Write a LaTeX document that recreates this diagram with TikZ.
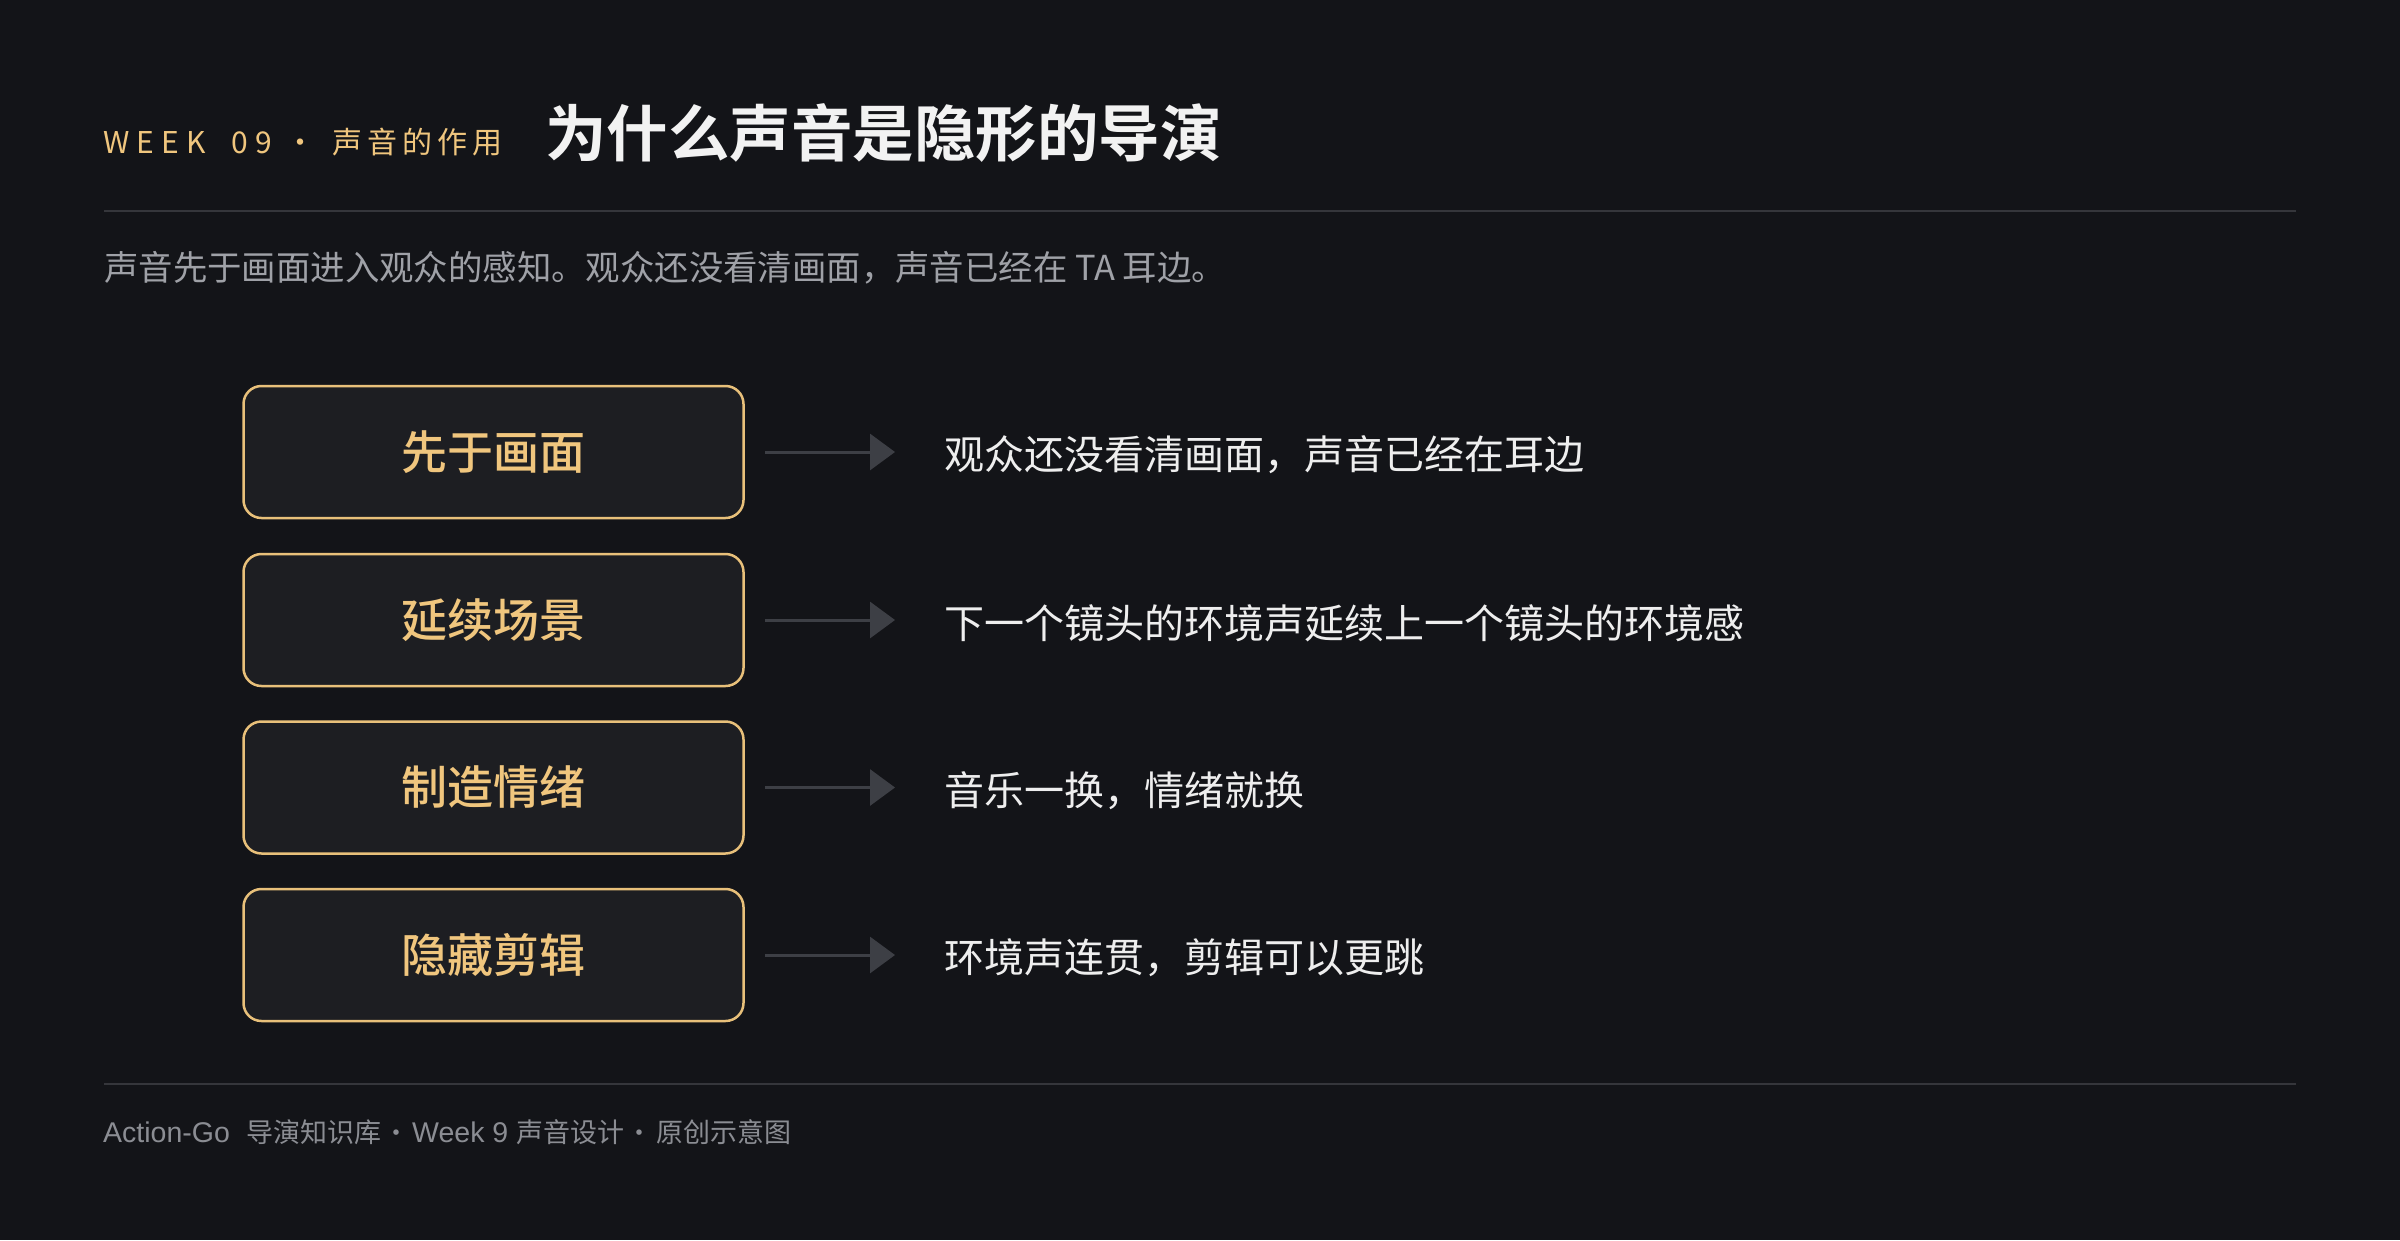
\documentclass[tikz,border=0pt]{standalone}
\usepackage{fontspec}
\setmainfont{Noto Sans CJK SC}
\newfontfamily\cjkbold{Noto Sans CJK SC Bold}
\newfontfamily\cjkmed{Noto Sans CJK SC Medium}
\newfontfamily\latfont{Liberation Sans}
\usetikzlibrary{arrows.meta}
\definecolor{bg}{HTML}{131418}
\definecolor{boxfill}{HTML}{1D1E22}
\definecolor{gold}{HTML}{F0C67E}
\definecolor{goldline}{HTML}{E8C07A}
\definecolor{titlewhite}{HTML}{F2F2F2}
\definecolor{subgray}{HTML}{9FA1A7}
\definecolor{textwhite}{HTML}{EEEEEE}
\definecolor{footgray}{HTML}{8B8D93}
\definecolor{rule}{HTML}{35363B}
\definecolor{arrowgray}{HTML}{3D3F45}
\tikzset{
  stepbox/.style={draw=goldline, line width=2.5pt, fill=boxfill, rounded corners=18pt,
    minimum width=500pt, minimum height=132pt, inner sep=0pt, text=gold,
    font=\cjkmed\fontsize{46}{46}\selectfont},
  desc/.style={anchor=west, inner sep=0pt, text=textwhite, font=\fontsize{40}{40}\selectfont},
  conn/.style={draw=arrowgray, line width=3pt, -{Triangle[length=25pt,width=36pt]},
    shorten <=20pt, shorten >=49pt},
  hrule/.style={draw=rule, line width=2pt},
  kick/.style={anchor=base west, inner sep=0pt, text=gold, font=\fontsize{30}{30}\selectfont},
  footlat/.style={anchor=base west, inner sep=0pt, text=footgray, font=\latfont\fontsize{28.5}{28.5}\selectfont},
  footcjk/.style={anchor=base west, inner sep=0pt, text=footgray, font=\fontsize{27}{27}\selectfont},
  footdot/.style={anchor=base, inner sep=0pt, text=footgray, font=\fontsize{26}{26}\selectfont}
}
\begin{document}
\begin{tikzpicture}[x=1pt,y=-1pt]
\fill[bg] (0,0) rectangle (2400,1240);
\useasboundingbox (0,0) rectangle (2400,1240);
% header
\node[kick] (kweek) at (103,153) {\addfontfeatures{LetterSpace=24}WEEK};
\node[kick] (knum) at (231,153) {\addfontfeatures{LetterSpace=24}09};
\node[kick, anchor=base] (kdot) at (300,153) {·};
\node[kick] (kcjk) at (332,153) {\addfontfeatures{LetterSpace=17}声音的作用};
\node[anchor=west, inner sep=0pt, text=titlewhite, font=\cjkbold\fontsize{61.5}{61.5}\selectfont] (title) at (545,133) {为什么声音是隐形的导演};
\coordinate (r1a) at (104,211);
\coordinate (r1b) at (2296,211);
\draw[hrule] (r1a) -- (r1b);
\node[anchor=west, inner sep=0pt, text=subgray, font=\fontsize{34.4}{34.4}\selectfont] (sub) at (104,268) {声音先于画面进入观众的感知。观众还没看清画面，声音已经在 TA 耳边。};
% rows
\node[stepbox] (b1) at (493.5,452) {先于画面};
\node[stepbox] (b2) at (493.5,620) {延续场景};
\node[stepbox] (b3) at (493.5,787.5) {制造情绪};
\node[stepbox] (b4) at (493.5,955) {隐藏剪辑};
\node[desc] (t1) at (944,455) {观众还没看清画面，声音已经在耳边};
\node[desc] (t2) at (944,623) {下一个镜头的环境声延续上一个镜头的环境感};
\node[desc] (t3) at (944,790.5) {音乐一换，情绪就换};
\node[desc] (t4) at (944,958) {环境声连贯，剪辑可以更跳};
\draw[conn] (b1.east) -- (b1.east -| t1.west);
\draw[conn] (b2.east) -- (b2.east -| t2.west);
\draw[conn] (b3.east) -- (b3.east -| t3.west);
\draw[conn] (b4.east) -- (b4.east -| t4.west);
% footer
\coordinate (r2a) at (104,1084);
\coordinate (r2b) at (2296,1084);
\draw[hrule] (r2a) -- (r2b);
\node[footlat] (f1) at (103,1142) {Action-Go};
\node[footcjk] (f2) at (246,1142) {导演知识库};
\node[footdot] (f3) at (396,1142) {·};
\node[footlat] (f4) at (412,1142) {Week 9};
\node[footcjk] (f5) at (516,1142) {声音设计};
\node[footdot] (f6) at (639,1142) {·};
\node[footcjk] (f7) at (656,1142) {原创示意图};
\end{tikzpicture}
\end{document}
